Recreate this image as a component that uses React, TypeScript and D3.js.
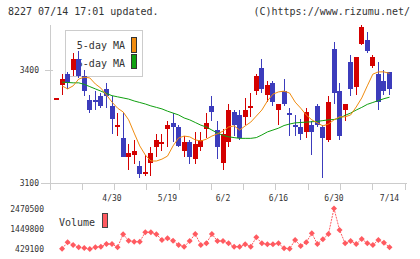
import React from 'react';
import * as d3 from 'd3';

// daily candles, oldest first
const opens = [3325, 3360, 3390, 3400, 3430, 3385, 3320, 3320, 3330, 3350, 3305, 3250, 3220, 3170, 3175, 3145, 3125, 3155, 3195, 3205, 3245, 3260, 3250, 3185, 3210, 3165, 3195, 3245, 3305, 3240, 3155, 3210, 3290, 3280, 3275, 3300, 3345, 3405, 3335, 3365, 3295, 3345, 3285, 3255, 3250, 3235, 3255, 3305, 3250, 3215, 3455, 3345, 3295, 3420, 3355, 3470, 3480, 3410, 3390, 3370, 3395];
const highs = [3325, 3390, 3395, 3445, 3450, 3400, 3335, 3345, 3340, 3365, 3330, 3285, 3290, 3205, 3215, 3160, 3175, 3195, 3230, 3230, 3265, 3285, 3255, 3225, 3215, 3235, 3235, 3285, 3330, 3265, 3245, 3310, 3295, 3295, 3325, 3340, 3390, 3430, 3370, 3370, 3310, 3375, 3300, 3280, 3270, 3300, 3265, 3310, 3255, 3330, 3475, 3365, 3310, 3440, 3435, 3520, 3500, 3440, 3420, 3400, 3395];
const lows = [3325, 3335, 3350, 3385, 3380, 3330, 3285, 3295, 3300, 3300, 3230, 3225, 3170, 3135, 3150, 3115, 3120, 3120, 3170, 3185, 3195, 3210, 3195, 3170, 3150, 3150, 3185, 3220, 3265, 3165, 3135, 3195, 3225, 3215, 3255, 3275, 3335, 3340, 3315, 3305, 3255, 3305, 3225, 3225, 3215, 3220, 3175, 3250, 3115, 3210, 3310, 3215, 3265, 3330, 3335, 3465, 3445, 3405, 3295, 3335, 3335];
const closes = [3325, 3375, 3365, 3430, 3385, 3345, 3295, 3315, 3305, 3330, 3270, 3255, 3170, 3180, 3185, 3125, 3130, 3180, 3215, 3210, 3255, 3250, 3200, 3210, 3170, 3205, 3215, 3260, 3290, 3195, 3230, 3295, 3255, 3220, 3295, 3305, 3385, 3350, 3360, 3315, 3310, 3310, 3280, 3250, 3230, 3290, 3235, 3255, 3220, 3315, 3340, 3225, 3310, 3350, 3435, 3515, 3450, 3435, 3315, 3345, 3350];

// moving averages (null where not plotted)
const ma5 = [null, 3358, 3350, 3358, 3376, 3381, 3379, 3363, 3352, 3334, 3315, 3299, 3289, 3268, 3233, 3199, 3175, 3159, 3159, 3164, 3172, 3199, 3220, 3225, 3223, 3215, 3212, 3217, 3225, 3231, 3238, 3249, 3252, 3241, 3252, 3262, 3278, 3294, 3318, 3336, 3342, 3344, 3339, 3315, 3299, 3281, 3268, 3260, 3252, 3257, 3268, 3276, 3276, 3281, 3302, 3326, 3358, 3389, 3395, 3395, 3391];
const ma25 = [null, 3368, 3367, 3366, 3366, 3362, 3356, 3350, 3344, 3338, 3332, 3329, 3326, 3323, 3318, 3314, 3310, 3305, 3301, 3297, 3291, 3286, 3281, 3273, 3268, 3261, 3254, 3249, 3241, 3233, 3227, 3223, 3221, 3219, 3219, 3219, 3221, 3228, 3236, 3241, 3246, 3253, 3257, 3260, 3261, 3262, 3263, 3264, 3266, 3268, 3269, 3272, 3280, 3286, 3294, 3301, 3309, 3314, 3319, 3324, 3328];

const volumes = [null, 444000, 767000, 631000, 515000, 480000, 429100, 515000, 545000, 681000, 681000, 515000, 1170000, 848000, 797000, 797000, 1271000, 1271000, 1170000, 883000, 968000, 848000, 631000, 545000, 832000, 1185000, 631000, 716000, 1185000, 832000, 832000, 716000, 545000, 545000, 666000, 545000, 1019000, 716000, 666000, 666000, 716000, 464000, 440000, 883000, 580000, 767000, 1220000, 681000, 918000, 1185000, 2470500, 1387000, 716000, 832000, 681000, 933000, 716000, 631000, 883000, 747000, 515000];

const dateLabels = ['4/30', '5/19', '6/2', '6/16', '6/30', '7/14'];
const dateLabelIdx = [10, 20, 30, 40, 50, 60];
const priceTicks = [3100, 3400];
const volumeTicks = [429100, 1449800, 2470500];

const FONT = '"DejaVu Sans Mono", monospace';
const RED = '#d40000';
const BLUE = '#3c3cbc';
const ORANGE = '#f08c10';
const GREEN = '#10a010';
const VOL = '#ff5a60';
const GRID = '#cccccc';
const TEXT = '#333333';

const App = () => {
  const width = 420;
  const height = 259;
  const axisLeft = 50;
  const axisRight = 405;

  const x = d3.scaleLinear().domain([0, opens.length - 1]).range([56.5, 389.5]);
  const y = d3.scaleLinear().domain([3100, 3400]).range([183.3, 70]);
  const yv = d3.scaleLinear().domain([429100, 2470500]).range([249, 208.5]);

  const bodyW = 5;

  const maLine = d3.line<number | null>()
    .defined(d => d != null)
    .x((_, i) => x(i))
    .y(d => y(d as number));

  const volLine = d3.line<number | null>()
    .defined(d => d != null)
    .x((_, i) => x(i))
    .y(d => yv(d as number));

  const xTicks = d3.range(12).map(k => axisLeft + (k * (axisRight - axisLeft)) / 11);

  return (
    <div style={{ position: 'fixed', left: 0, top: 0, background: '#fff' }}>
      <svg width={width} height={height} style={{ display: 'block' }}>
        <rect width={width} height={height} fill="#fff" />

        {/* header */}
        <text x={8} y={15} fontFamily={FONT} fontSize={10} fill={TEXT}>8227 07/14 17:01 updated.</text>
        <text x={410} y={15} fontFamily={FONT} fontSize={10} fill={TEXT} textAnchor="end">(C)https://www.rizumu.net/</text>

        {/* axes */}
        <g shapeRendering="crispEdges" stroke={GRID} strokeWidth={1}>
          <line x1={axisLeft} x2={axisLeft} y1={25} y2={190} />
          <line x1={41} x2={axisRight + 2} y1={y(3100)} y2={y(3100)} />
          <line x1={45} x2={53} y1={y(3400)} y2={y(3400)} />
          {xTicks.map((t, k) => (
            <line key={k} x1={t} x2={t} y1={y(3100)} y2={190} />
          ))}
        </g>
        {priceTicks.map(p => (
          <text key={p} x={39} y={y(p) + 3} fontFamily={FONT} fontSize={8} fill={TEXT} textAnchor="end">{p}</text>
        ))}
        {dateLabels.map((d, k) => (
          <text key={d} x={x(dateLabelIdx[k])} y={200.5} fontFamily={FONT} fontSize={8} fill={TEXT} textAnchor="middle">{d}</text>
        ))}

        {/* legend */}
        <g shapeRendering="crispEdges">
          <rect x={65.5} y={30.5} width={77} height={46} fill="#fff" stroke={GRID} />
          <rect x={131.5} y={37.5} width={5} height={15} fill={ORANGE} stroke="#333" />
          <rect x={131.5} y={54.5} width={5} height={14} fill={GREEN} stroke="#333" />
        </g>
        <text x={125} y={49} fontFamily={FONT} fontSize={10} fill={TEXT} textAnchor="end">5-day MA</text>
        <text x={125} y={66.5} fontFamily={FONT} fontSize={10} fill={TEXT} textAnchor="end">25-day MA</text>

        {/* candles */}
        <g shapeRendering="crispEdges">
          {opens.map((o, i) => {
            const c = closes[i];
            const col = c >= o ? RED : BLUE;
            const top = y(Math.max(o, c));
            const h = Math.max(1.5, Math.abs(y(o) - y(c)));
            return (
              <g key={i}>
                <line x1={x(i)} x2={x(i)} y1={y(highs[i])} y2={y(lows[i])} stroke={col} strokeWidth={1} />
                <rect x={x(i) - bodyW / 2} y={top} width={bodyW} height={h} fill={col} />
              </g>
            );
          })}
        </g>

        {/* moving averages */}
        <path d={maLine(ma25) ?? ''} fill="none" stroke={GREEN} strokeWidth={1} />
        <path d={maLine(ma5) ?? ''} fill="none" stroke={ORANGE} strokeWidth={1} />

        {/* volume */}
        <text x={44} y={yv(2470500) + 3} fontFamily={FONT} fontSize={8} fill={TEXT} textAnchor="end">{volumeTicks[2]}</text>
        {volumeTicks.slice(0, 2).map(v => (
          <text key={v} x={44} y={yv(v) + 3} fontFamily={FONT} fontSize={8} fill={TEXT} textAnchor="end">{v}</text>
        ))}
        <text x={59} y={226} fontFamily={FONT} fontSize={10} fill={TEXT}>Volume</text>
        <rect x={102.5} y={213.5} width={5} height={14} fill={VOL} stroke="#444" shapeRendering="crispEdges" />
        <path d={volLine(volumes) ?? ''} fill="none" stroke={VOL} strokeWidth={1} strokeDasharray="2,1" />
        {volumes.map((v, i) =>
          v == null ? null : (
            <path key={i} d={`M${x(i)},${yv(v) - 3}L${x(i) + 3},${yv(v)}L${x(i)},${yv(v) + 3}L${x(i) - 3},${yv(v)}Z`} fill={VOL} />
          )
        )}
      </svg>
    </div>
  );
};

export default App;
